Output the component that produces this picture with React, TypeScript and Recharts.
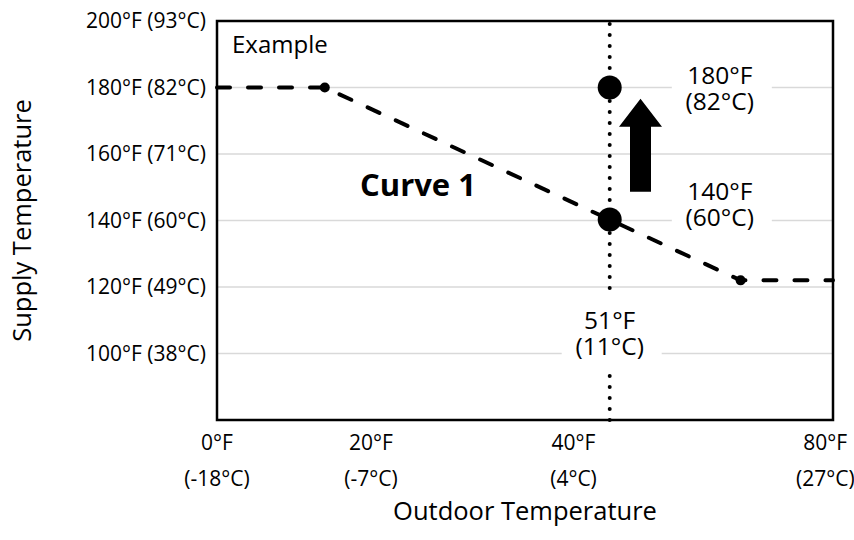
import {
  ComposedChart,
  Line,
  Scatter,
  XAxis,
  YAxis,
  CartesianGrid,
  ReferenceLine,
  ReferenceArea,
  ReferenceDot,
  Label,
} from "recharts";

const FONT = "'Open Sans', sans-serif";

// reset curve: outdoor temp (°F) -> supply temp (°F)
const curveOutdoor = [0, 14, 68, 80];
const curveSupply = [180, 180, 122, 122];

// corners of the curve
const breakOutdoor = [14, 68];
const breakSupply = [180, 122];

// boost at 51°F outdoor
const boostOutdoor = [51, 51];
const boostSupply = [140.3, 180];

const yTicks = [100, 120, 140, 160, 180, 200];
const yTickLabels = [
  "100°F (38°C)",
  "120°F (49°C)",
  "140°F (60°C)",
  "160°F (71°C)",
  "180°F (82°C)",
  "200°F (93°C)",
];

// tick labels sit where the original put them
const xTicks = [0, 20, 46.3, 79];
const xTickF = ["0°F", "20°F", "40°F", "80°F"];
const xTickC = ["(-18°C)", "(-7°C)", "(4°C)", "(27°C)"];

// boxed notes (two lines each)
const noteTop = ["180°F", "140°F", "51°F"];
const noteBottom = ["(82°C)", "(60°C)", "(11°C)"];
const noteX = [65.3, 65.3, 51];
const noteY = [179.2, 144.4, 105.6];

const curveData = curveOutdoor.map((x, i) => ({ x, y: curveSupply[i] }));
const breakData = breakOutdoor.map((x, i) => ({ x, y: breakSupply[i] }));
const boostData = boostOutdoor.map((x, i) => ({ x, y: boostSupply[i] }));

const XTick = (props: any) => {
  const { x, y, payload } = props;
  const i = xTicks.indexOf(payload.value);
  return (
    <g>
      <text x={x} y={y + 28} textAnchor="middle" fontSize={21} fill="#000" fontFamily={FONT}>
        {xTickF[i]}
      </text>
      <text x={x} y={y + 64} textAnchor="middle" fontSize={21} fill="#000" fontFamily={FONT}>
        {xTickC[i]}
      </text>
    </g>
  );
};

const Note = (top: string, bottom: string) => (p: any) => (
  <g>
    <rect x={p.cx - 48} y={p.cy - 40} width={100} height={77} fill="#fff" />
    <text x={p.cx} y={p.cy - 6} textAnchor="middle" fontSize={24.5} fill="#000" fontFamily={FONT}>
      {top}
    </text>
    <text x={p.cx} y={p.cy + 20} textAnchor="middle" fontSize={24.5} fill="#000" fontFamily={FONT}>
      {bottom}
    </text>
  </g>
);

const Arrow = (p: any) => {
  const { cx, cy } = p;
  const pts = [
    [cx, cy - 46.5],
    [cx + 21.5, cy - 18.5],
    [cx + 10.5, cy - 18.5],
    [cx + 10.5, cy + 46.5],
    [cx - 10.5, cy + 46.5],
    [cx - 10.5, cy - 18.5],
    [cx - 21.5, cy - 18.5],
  ]
    .map((q) => q.join(","))
    .join(" ");
  return <polygon points={pts} fill="#000" />;
};

export default function App() {
  return (
    <div style={{ width: 854, height: 540, background: "#fff" }}>
      <style>{"body{margin:0}"}</style>
      <ComposedChart
        width={854}
        height={540}
        margin={{ top: 21, right: 21, left: 0, bottom: 0 }}
      >
        <CartesianGrid vertical={false} stroke="#d9d9d9" strokeWidth={1.5} />
        <XAxis
          dataKey="x"
          type="number"
          domain={[0, 80]}
          ticks={xTicks}
          interval={0}
          tick={<XTick />}
          tickLine={false}
          axisLine={false}
          tickSize={0}
          height={120}
        >
          <Label
            content={(p: any) => (
              <text
                x={p.viewBox.x + p.viewBox.width / 2}
                y={520}
                textAnchor="middle"
                fontSize={25.5}
                fill="#000"
                fontFamily={FONT}
              >
                Outdoor Temperature
              </text>
            )}
          />
        </XAxis>
        <YAxis
          type="number"
          domain={[80, 200]}
          ticks={yTicks}
          interval={0}
          width={217}
          tickLine={false}
          axisLine={false}
          tickSize={0}
          tickMargin={11}
          tickFormatter={(v: number) => yTickLabels[yTicks.indexOf(v)]}
          tick={{ fill: "#000", fontSize: 21, fontFamily: FONT }}
        >
          <Label
            content={(p: any) => (
              <text
                transform={`translate(31, ${p.viewBox.y + p.viewBox.height / 2}) rotate(-90)`}
                textAnchor="middle"
                fontSize={25.5}
                fill="#000"
                fontFamily={FONT}
              >
                Supply Temperature
              </text>
            )}
          />
        </YAxis>

        <ReferenceLine
          x={51}
          stroke="#000"
          strokeWidth={4}
          strokeDasharray="0 11"
          strokeLinecap="round"
        />

        <Line
          data={curveData}
          dataKey="y"
          type="linear"
          stroke="#000"
          strokeWidth={4}
          strokeDasharray="13 18"
          strokeLinecap="round"
          dot={false}
          activeDot={false}
          isAnimationActive={false}
        />
        <Scatter
          data={breakData}
          dataKey="y"
          fill="#000"
          isAnimationActive={false}
          shape={(p: any) => <circle cx={p.cx} cy={p.cy} r={5} fill="#000" />}
        />
        <Scatter
          data={boostData}
          dataKey="y"
          fill="#000"
          isAnimationActive={false}
          shape={(p: any) => <circle cx={p.cx} cy={p.cy} r={12} fill="#000" />}
        />

        {noteTop.map((t, i) => (
          <ReferenceDot
            key={t}
            x={noteX[i]}
            y={noteY[i]}
            r={0}
            shape={Note(t, noteBottom[i])}
          />
        ))}
        <ReferenceDot x={55} y={162.6} r={0} shape={Arrow} />
        <ReferenceDot
          x={1.95}
          y={192.8}
          r={0}
          shape={(p: any) => (
            <text x={p.cx} y={p.cy + 8.5} fontSize={24} fill="#000" fontFamily={FONT}>
              Example
            </text>
          )}
        />
        <ReferenceDot
          x={26.1}
          y={150.7}
          r={0}
          shape={(p: any) => (
            <text
              x={p.cx}
              y={p.cy + 11}
              textAnchor="middle"
              fontSize={31}
              fontWeight="bold"
              fill="#000"
              fontFamily={FONT}
            >
              Curve 1
            </text>
          )}
        />

        <ReferenceArea
          x1={0}
          x2={80}
          y1={80}
          y2={200}
          fill="none"
          stroke="#000"
          strokeWidth={2.5}
        />
      </ComposedChart>
    </div>
  );
}
